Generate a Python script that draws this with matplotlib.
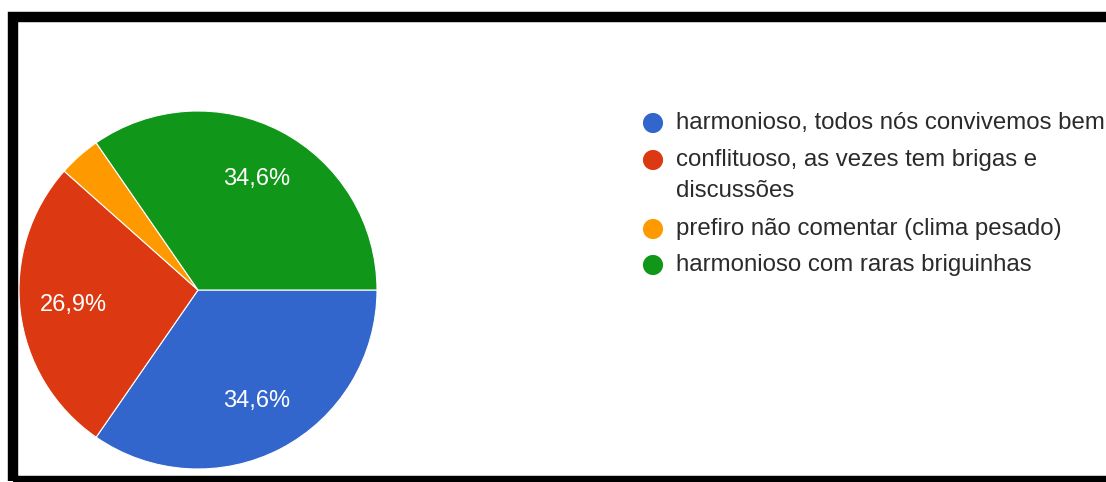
import matplotlib
matplotlib.use("Agg")
import matplotlib.pyplot as plt
from matplotlib.patches import Rectangle

plt.rcParams["font.family"] = ["Liberation Sans", "DejaVu Sans"]

# survey answers and their share of responses
categories = [
    "harmonioso, todos nós convivemos bem",
    "conflituoso, as vezes tem brigas e\ndiscussões",
    "prefiro não comentar (clima pesado)",
    "harmonioso com raras briguinhas",
]
percentages = [34.6, 26.9, 3.8, 34.6]
colors = ["#3366cc", "#dc3912", "#ff9900", "#109618"]

W, H = 1106, 482
fig = plt.figure(figsize=(W / 100, H / 100), dpi=100)
fig.patch.set_facecolor("white")

# pie, centre at (198, 290) px from the top-left, radius 179 px
cx, cy, r = 198, 290, 179
ax = fig.add_axes([(cx - r) / W, (H - cy - r) / H, 2 * r / W, 2 * r / H])


def pct_label(p):
    if p < 5:
        return ""
    return f"{p:.1f}%".replace(".", ",")


wedges, texts, autotexts = ax.pie(
    percentages,
    colors=colors,
    startangle=0,
    counterclock=False,
    autopct=pct_label,
    pctdistance=0.7,
    wedgeprops=dict(edgecolor="white", linewidth=0.8),
    textprops=dict(color="white", fontsize=17),
)
ax.set_xlim(-1, 1)
ax.set_ylim(-1, 1)
ax.set_aspect("equal")

# legend drawn by hand so wrapped labels keep the dot on the first line
lax = fig.add_axes([0, 0, 1, 1])
lax.set_xlim(0, W)
lax.set_ylim(H, 0)
lax.axis("off")
row_y = [123, 160, 229, 265]
for y, label, c in zip(row_y, categories, colors):
    lax.scatter(653, y, s=210, color=c, edgecolors="none")
    lax.text(676, y - 11, label, fontsize=17.3, color="#2b2b2b",
             va="top", ha="left", linespacing=1.55)

# thick black frame, open on the right side
fig.patches.append(Rectangle((13 / W, (H - 481) / H), 1.2, (481 - 17) / H,
                             transform=fig.transFigure, fill=False,
                             edgecolor="black", linewidth=7.5, zorder=10))

fig.savefig("out.png", dpi=100)
